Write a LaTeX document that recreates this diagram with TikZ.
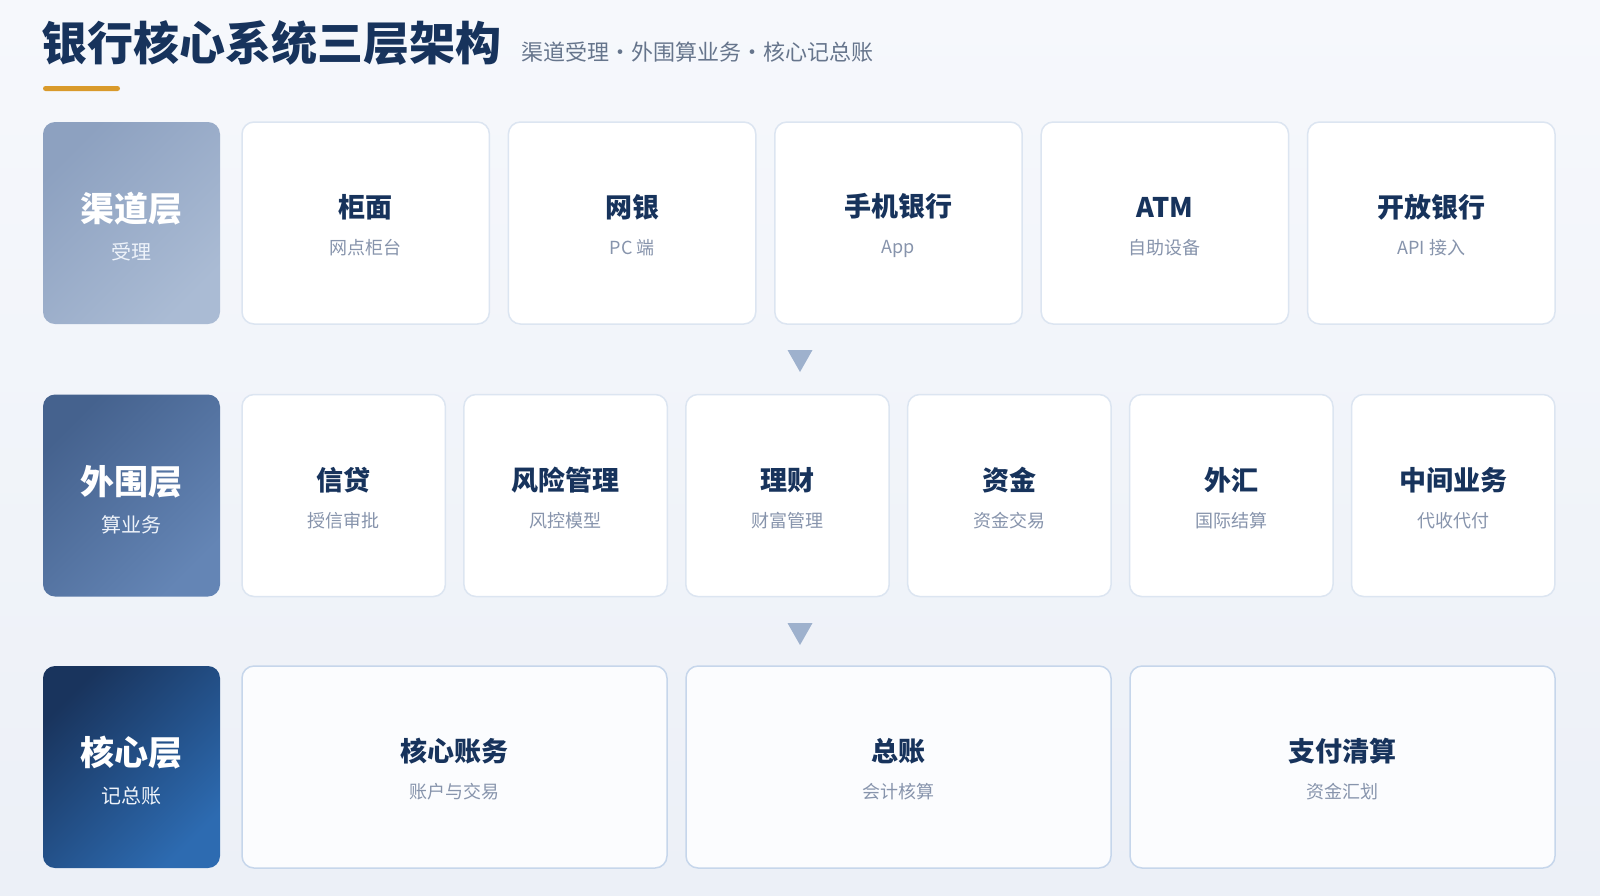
\documentclass[tikz,border=0pt]{standalone}
\usepackage{fontspec}
\setmainfont{Noto Sans CJK SC}
\usetikzlibrary{
positioning,
shadows
}

\definecolor{titlec}{HTML}{17335C}
\definecolor{subc}{HTML}{66758C}
\definecolor{accent}{HTML}{D99A2B}
\definecolor{cardsubc}{HTML}{8794AC}
\definecolor{cardline}{HTML}{DCE5F1}
\definecolor{coreline}{HTML}{C6D6EB}
\definecolor{corefill}{HTML}{FBFCFE}
\definecolor{tric}{HTML}{9EB1CD}
\definecolor{bgtop}{HTML}{F6F8FC}
\definecolor{bgbot}{HTML}{ECF0F7}
\definecolor{layA1}{HTML}{8DA1C0}
\definecolor{layA2}{HTML}{AABBD4}
\definecolor{layB1}{HTML}{45628E}
\definecolor{layB2}{HTML}{6485B5}
\definecolor{layC1}{HTML}{19345D}
\definecolor{layC2}{HTML}{2D6BB1}
\definecolor{laysubc}{HTML}{EEF3FA}

\newcommand\cardtitle[1]{{\fontsize{13.5pt}{16pt}\selectfont\bfseries\color{titlec}\rule{0pt}{14pt}#1}}
\newcommand\layertitle[1]{{\fontsize{17pt}{20pt}\selectfont\bfseries\rule{0pt}{18.5pt}#1}}
\newcommand\layersub[1]{{\color{laysubc}#1}}

\tikzset{
  titletext/.style={inner sep=0pt, outer sep=0pt, text=titlec,
    font=\fontsize{23pt}{27pt}\selectfont\bfseries},
  subtext/.style={inner sep=0pt, outer sep=0pt, text=subc,
    font=\fontsize{11pt}{13pt}\selectfont},
  layer/.style={rounded corners=6pt, minimum width=88.5pt, minimum height=101pt,
    inner sep=0pt, outer sep=0pt, align=center, text=white,
    font=\fontsize{10pt}{18.8pt}\selectfont},
  layA/.style={layer, top color=layA1, bottom color=layA2, shading angle=45},
  layB/.style={layer, top color=layB1, bottom color=layB2, shading angle=45},
  layC/.style={layer, top color=layC1, bottom color=layC2, shading angle=45},
  card/.style={draw=cardline, line width=0.75pt, fill=white, rounded corners=6pt,
    minimum height=101pt, inner sep=0pt, outer sep=0pt, align=center,
    text=cardsubc, font=\fontsize{9pt}{18.5pt}\selectfont},
  cardA/.style={card, minimum width=123.7pt},
  cardB/.style={card, minimum width=101.7pt},
  cardC/.style={card, draw=coreline, fill=corefill, minimum width=212.5pt},
  tri/.style={fill=tric}
}

\begin{document}
\begin{tikzpicture}[x=0.5pt,y=-0.5pt]
    \fill[top color=bgtop, bottom color=bgbot] (0,0) rectangle (1600,895);

    \node[titletext, anchor=base west] (title) at (41,60) {银行核心系统三层架构};
    \node[subtext, base right=10pt of title] (subtitle) {渠道受理·外围算业务·核心记总账};
    \fill[accent, rounded corners=1.25pt] (43,86) rectangle (120,91);

    \node[layA] (L1) at (131.5,223) {\layertitle{渠道层}\\\layersub{受理}};
    \node[cardA, right=11pt of L1] (C11) {\cardtitle{柜面}\\网点柜台};
    \node[cardA, right=9.5pt of C11] (C12) {\cardtitle{网银}\\PC 端};
    \node[cardA, right=9.5pt of C12] (C13) {\cardtitle{手机银行}\\App};
    \node[cardA, right=9.5pt of C13] (C14) {\cardtitle{ATM}\\自助设备};
    \node[cardA, right=9.5pt of C14] (C15) {\cardtitle{开放银行}\\API 接入};

    \coordinate (A1) at (800,361);
    \fill[tri] (A1) ++(-12.5,-11) -- ++(25,0) -- ++(-12.5,22) -- cycle;

    \node[layB] (L2) at (131.5,495.5) {\layertitle{外围层}\\\layersub{算业务}};
    \node[cardB, right=11pt of L2] (C21) {\cardtitle{信贷}\\授信审批};
    \node[cardB, right=9.25pt of C21] (C22) {\cardtitle{风险管理}\\风控模型};
    \node[cardB, right=9.25pt of C22] (C23) {\cardtitle{理财}\\财富管理};
    \node[cardB, right=9.25pt of C23] (C24) {\cardtitle{资金}\\资金交易};
    \node[cardB, right=9.25pt of C24] (C25) {\cardtitle{外汇}\\国际结算};
    \node[cardB, right=9.25pt of C25] (C26) {\cardtitle{中间业务}\\代收代付};

    \coordinate (A2) at (800,634);
    \fill[tri] (A2) ++(-12.5,-11) -- ++(25,0) -- ++(-12.5,22) -- cycle;

    \node[layC] (L3) at (131.5,767) {\layertitle{核心层}\\\layersub{记总账}};
    \node[cardC, right=11pt of L3] (C31) {\cardtitle{核心账务}\\账户与交易};
    \node[cardC, right=9.5pt of C31] (C32) {\cardtitle{总账}\\会计核算};
    \node[cardC, right=9.5pt of C32] (C33) {\cardtitle{支付清算}\\资金汇划};
\end{tikzpicture}
\end{document}
